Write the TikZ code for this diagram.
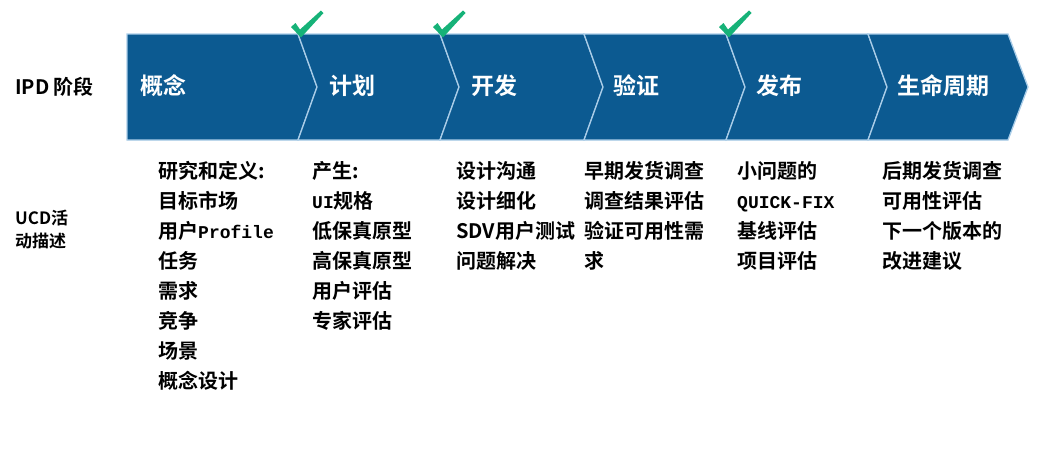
\documentclass[tikz,border=0pt]{standalone}
\usepackage{fontspec}
\setmainfont{Noto Sans CJK SC}[BoldFont={Noto Sans CJK SC Bold}]
\newfontfamily\monob{Liberation Mono}[BoldFont={Liberation Mono Bold}]
\definecolor{bandblue}{RGB}{12,90,145}
\definecolor{edgeblue}{RGB}{170,205,232}
\definecolor{checkgreen}{RGB}{22,178,120}
\tikzset{
  chev/.style={fill=bandblue,draw=edgeblue,line width=1.3pt,line join=miter},
  phase/.style={text=white,font=\fontsize{23}{25}\selectfont\bfseries,anchor=west,inner sep=0pt},
  col/.style={anchor=north west,inner sep=0pt,align=left,font=\fontsize{20}{30}\selectfont\bfseries},
  side/.style={anchor=west,inner sep=0pt,align=left,font=\fontsize{17}{23}\selectfont\bfseries},
  tick/.style={fill=checkgreen,draw=none}
}
\newcommand{\mono}[1]{{\monob\fontsize{18}{30}\selectfont\bfseries #1}}
\begin{document}
\begin{tikzpicture}[x=1pt,y=-1pt]
\useasboundingbox (0,0) rectangle (1039,451);
% band chevrons
\draw[chev] (127,34) -- (298,34) -- (317,87) -- (298,140) -- (127,140) -- cycle;
\draw[chev] (298,34) -- (440,34) -- (459,87) -- (440,140) -- (298,140) -- (317,87) -- cycle;
\draw[chev] (440,34) -- (584,34) -- (603,87) -- (584,140) -- (440,140) -- (459,87) -- cycle;
\draw[chev] (584,34) -- (726,34) -- (745,87) -- (726,140) -- (584,140) -- (603,87) -- cycle;
\draw[chev] (726,34) -- (868,34) -- (887,87) -- (868,140) -- (726,140) -- (745,87) -- cycle;
\draw[chev] (868,34) -- (1008,34) -- (1028,87) -- (1008,140) -- (868,140) -- (887,87) -- cycle;
% check marks
\foreach \dx in {0,142,428}{
  \fill[tick,xshift=\dx pt] (291,27) -- (295.5,23) -- (300,29.5) -- (321,10.5) -- (323.5,13) -- (301,37.5) -- cycle;
}
% phase labels
\node[phase] (p1) at (140,86) {概念};
\node[phase] (p2) at (329,86) {计划};
\node[phase] (p3) at (471,86) {开发};
\node[phase] (p4) at (613,86) {验证};
\node[phase] (p5) at (756,86) {发布};
\node[phase] (p6) at (897,86) {生命周期};
% side labels
\node[side,font=\fontsize{20}{22}\selectfont\bfseries] (ipd) at (15,87) {IPD 阶段};
\node[side] (ucd) at (15,230) {UCD活\\动描述};
% columns
\node[col] (c1) at (158,161) {研究和定义:\\目标市场\\用户\mono{Profile}\\任务\\需求\\竞争\\场景\\概念设计};
\node[col] (c2) at (312,161) {产生:\\\mono{UI}规格\\低保真原型\\高保真原型\\用户评估\\专家评估};
\node[col] (c3) at (456,161) {设计沟通\\设计细化\\SDV用户测试\\问题解决};
\node[col] (c4) at (584,161) {早期发货调查\\调查结果评估\\验证可用性需\\求};
\node[col] (c5) at (737,161) {小问题的\\\mono{QUICK-FIX}\\基线评估\\项目评估};
\node[col] (c6) at (882,161) {后期发货调查\\可用性评估\\下一个版本的\\改进建议};
\end{tikzpicture}
\end{document}
